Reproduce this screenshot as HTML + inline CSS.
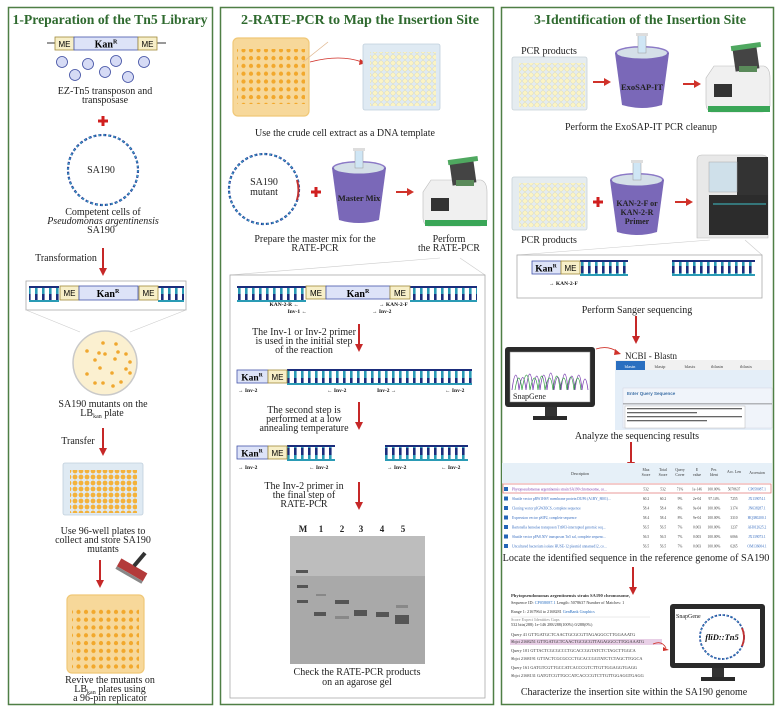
<!DOCTYPE html>
<html><head><meta charset="utf-8"><style>
html,body{margin:0;padding:0;background:#fff;}
svg{display:block;}
text{font-family:"Liberation Serif",serif;}
.t{font-size:14px;font-weight:bold;fill:#2f6a2f;text-anchor:middle;}
.c{font-size:10px;fill:#222;text-anchor:middle;}
.s{font-family:"Liberation Sans",sans-serif;}
.lab{font-size:5.5px;font-weight:bold;fill:#111;}
</style></head><body>
<svg width="779" height="711" viewBox="0 0 779 711" xmlns="http://www.w3.org/2000/svg">
<defs>
<pattern id="agar" width="7.5" height="7.8" patternUnits="userSpaceOnUse"><circle cx="3.5" cy="3.5" r="2.1" fill="#f2a82c"/></pattern>
<pattern id="well" width="6" height="6" patternUnits="userSpaceOnUse"><circle cx="3" cy="3" r="2.3" fill="#fbf4c4" stroke="#d9d3a0" stroke-width="0.4"/></pattern>
<pattern id="wello" width="6" height="6" patternUnits="userSpaceOnUse"><circle cx="3" cy="3" r="2.4" fill="#f4b23a"/></pattern>
<pattern id="rung" width="7" height="14" patternUnits="userSpaceOnUse"><rect x="0" y="0" width="2.6" height="7" fill="#1b2d7c"/><rect x="0" y="7" width="2.6" height="7" fill="#2a9bb5"/></pattern>
<g id="arr"><line x1="0" y1="0" x2="0" y2="22" stroke="#c62828" stroke-width="2"/><polygon points="-4,20 4,20 0,28" fill="#c62828"/></g>
<g id="harr"><line x1="0" y1="0" x2="12" y2="0" stroke="#d0322a" stroke-width="2"/><polygon points="11,-4 18,0 11,4" fill="#d0322a"/></g>
<g id="plus"><rect x="-5" y="-1.5" width="10" height="3" fill="#d01f1f"/><rect x="-1.5" y="-5" width="3" height="10" fill="#d01f1f"/></g>
<g id="bucket"><ellipse cx="0" cy="0" rx="27" ry="7" fill="#8b79c6"/><path d="M-27,0 L-20,52 Q0,58 20,52 L27,0 Z" fill="#7a68b8"/><ellipse cx="0" cy="0" rx="25" ry="5.5" fill="#d4dfe8"/><rect x="-4" y="-18" width="8" height="18" fill="#cfe6f5" stroke="#999" stroke-width="0.5"/><rect x="-6" y="-20" width="12" height="3" fill="#ddd"/></g>
<g id="cycler"><path d="M8,22 L58,22 Q64,24 64,34 L64,62 Q62,68 55,68 L5,68 Q0,66 0,60 L0,34 Z" fill="#f0f0f0" stroke="#bbb" stroke-width="0.6"/><rect x="2" y="62" width="62" height="6" fill="#3aa657"/><rect x="8" y="40" width="18" height="13" fill="#333"/><rect x="28" y="4" width="24" height="22" fill="#444" transform="rotate(-8 40 15)"/><rect x="25" y="0" width="30" height="5" fill="#4fa860" transform="rotate(-8 40 3)"/><rect x="33" y="22" width="18" height="6" fill="#5a8a5a"/></g>
</defs>

<rect x="8.5" y="7.5" width="204" height="697" fill="none" stroke="#4f7f45" stroke-width="1.5"/>
<rect x="220.5" y="7.5" width="273" height="697" fill="none" stroke="#4f7f45" stroke-width="1.5"/>
<rect x="501.5" y="7.5" width="272" height="697" fill="none" stroke="#4f7f45" stroke-width="1.5"/>

<!-- PANEL 1 -->
<text class="t" x="110" y="24" textLength="195" lengthAdjust="spacingAndGlyphs">1-Preparation of the Tn5 Library</text>
<line x1="47" y1="43" x2="166" y2="43" stroke="#333" stroke-width="1"/>
<rect x="55" y="37" width="19" height="13" fill="#f7efc8" stroke="#a08a3a" stroke-width="0.8"/>
<rect x="74" y="37" width="64" height="13" fill="#dde3f8" stroke="#4455aa" stroke-width="0.8"/>
<rect x="138" y="37" width="19" height="13" fill="#f7efc8" stroke="#a08a3a" stroke-width="0.8"/>
<text x="64.5" y="47" class="s" font-size="8" text-anchor="middle">ME</text>
<text x="147.5" y="47" class="s" font-size="8" text-anchor="middle">ME</text>
<text x="106" y="47.5" font-size="10" font-weight="bold" text-anchor="middle">Kan<tspan font-size="6" dy="-4">R</tspan></text>
<g fill="#d6dbf5" stroke="#3b4aa0" stroke-width="0.8"><circle cx="62" cy="62" r="5.5"/><circle cx="88" cy="64" r="5.5"/><circle cx="116" cy="61" r="5.5"/><circle cx="144" cy="62" r="5.5"/><circle cx="75" cy="75" r="5.5"/><circle cx="105" cy="72" r="5.5"/><circle cx="128" cy="77" r="5.5"/></g>
<text class="c" x="105" y="94">EZ-Tn5 transposon and</text>
<text class="c" x="105" y="103">transposase</text>
<use href="#plus" x="103" y="121"/>
<circle cx="103" cy="170" r="35" fill="none" stroke="#2a3f9a" stroke-width="2.2" stroke-dasharray="3 2"/>
<circle cx="103" cy="170" r="35" fill="none" stroke="#3ba6c6" stroke-width="1.2" stroke-dasharray="2 3"/>
<text class="c" x="101" y="173">SA190</text>
<text class="c" x="103" y="215">Competent cells of</text>
<text class="c" x="103" y="224" font-style="italic">Pseudomonas argentinensis</text>
<text class="c" x="101" y="233">SA190</text>
<text class="c" x="66" y="261">Transformation</text>
<use href="#arr" x="103" y="248"/>
<rect x="26" y="281" width="160" height="29" fill="#fff" stroke="#aaa" stroke-width="0.8"/>
<rect x="29" y="287" width="30" height="14" fill="url(#rung)"/><line x1="29" y1="287" x2="59" y2="287" stroke="#1b2d7c" stroke-width="2"/><line x1="29" y1="301" x2="59" y2="301" stroke="#2a9bb5" stroke-width="2"/>
<rect x="158" y="287" width="26" height="14" fill="url(#rung)"/><line x1="158" y1="287" x2="184" y2="287" stroke="#1b2d7c" stroke-width="2"/><line x1="158" y1="301" x2="184" y2="301" stroke="#2a9bb5" stroke-width="2"/>
<rect x="60" y="286" width="19" height="14" fill="#f7efc8" stroke="#a08a3a" stroke-width="0.8"/>
<rect x="79" y="286" width="59" height="14" fill="#dde3f8" stroke="#4455aa" stroke-width="0.8"/>
<rect x="139" y="286" width="19" height="14" fill="#f7efc8" stroke="#a08a3a" stroke-width="0.8"/>
<text x="69.5" y="296" class="s" font-size="8" text-anchor="middle">ME</text>
<text x="148.5" y="296" class="s" font-size="8" text-anchor="middle">ME</text>
<text x="108" y="297" font-size="10" font-weight="bold" text-anchor="middle">Kan<tspan font-size="6" dy="-4">R</tspan></text>
<line x1="26" y1="310" x2="80" y2="332" stroke="#ccc" stroke-width="0.6"/><line x1="186" y1="310" x2="130" y2="332" stroke="#ccc" stroke-width="0.6"/>
<circle cx="105" cy="363" r="32" fill="#fbf0d0" stroke="#c9c9c9" stroke-width="1.5"/>
<g fill="#f0a830"><circle cx="103" cy="343" r="1.8"/><circle cx="116" cy="344" r="1.8"/><circle cx="87" cy="351" r="1.8"/><circle cx="99" cy="353" r="1.8"/><circle cx="105" cy="354" r="1.8"/><circle cx="118" cy="352" r="1.8"/><circle cx="126" cy="354" r="1.8"/><circle cx="95" cy="360" r="1.8"/><circle cx="115" cy="359" r="1.8"/><circle cx="130" cy="362" r="1.8"/><circle cx="100" cy="368" r="1.8"/><circle cx="87" cy="374" r="1.8"/><circle cx="112" cy="373" r="1.8"/><circle cx="126" cy="369" r="1.8"/><circle cx="130" cy="373" r="1.8"/><circle cx="95" cy="383" r="1.8"/><circle cx="103" cy="383" r="1.8"/><circle cx="113" cy="386" r="1.8"/><circle cx="121" cy="382" r="1.8"/></g>
<text class="c" x="103" y="407">SA190 mutants on the</text>
<text class="c" x="102" y="416">LB<tspan font-size="6" dy="2">kan</tspan><tspan dy="-2"> plate</tspan></text>
<text class="c" x="78" y="444">Transfer</text>
<use href="#arr" x="103" y="428"/>
<rect x="63" y="463" width="80" height="52" rx="2" fill="#dfeaf3" stroke="#c0cfdc" stroke-width="0.8"/>
<rect x="70" y="470" width="67" height="43" fill="url(#wello)"/>
<text class="c" x="103" y="534">Use 96-well plates to</text>
<text class="c" x="103" y="543">collect and store SA190</text>
<text class="c" x="103" y="552">mutants</text>
<use href="#arr" x="100" y="560"/>
<g transform="rotate(30 132 568)"><rect x="118" y="565" width="30" height="9" fill="#b33a3a"/><rect x="118" y="574" width="30" height="3" fill="#888"/></g>
<line x1="134" y1="566" x2="145" y2="553" stroke="#333" stroke-width="4"/>
<rect x="67" y="595" width="77" height="78" rx="5" fill="#f7d89a" stroke="#f0c878" stroke-width="1.2"/>
<rect x="72" y="607" width="67" height="62" fill="url(#agar)"/>
<text class="c" x="110" y="683">Revive the mutants on</text>
<text class="c" x="110" y="692">LB<tspan font-size="6" dy="2">kan</tspan><tspan dy="-2"> plates using</tspan></text>
<text class="c" x="110" y="701">a 96-pin replicator</text>

<!-- PANEL 2 -->
<text class="t" x="360" y="24" textLength="238" lengthAdjust="spacingAndGlyphs">2-RATE-PCR to Map the Insertion Site</text>
<rect x="233" y="38" width="76" height="78" rx="5" fill="#f7d89a" stroke="#f0c878" stroke-width="1.2"/>
<rect x="237" y="49" width="68" height="55" fill="url(#agar)"/>
<line x1="303" y1="62" x2="328" y2="42" stroke="#e0b890" stroke-width="0.8"/>
<path d="M310,62 Q340,54 362,62" fill="none" stroke="#d0322a" stroke-width="0.8"/><polygon points="360,59 366,63 359,65" fill="#d0322a"/>
<rect x="363" y="44" width="77" height="66" rx="2" fill="#dfeaf3" stroke="#c0cfdc" stroke-width="0.8"/>
<rect x="370" y="52" width="66" height="54" fill="url(#well)"/>
<text class="c" x="345" y="136">Use the crude cell extract as a DNA template</text>
<circle cx="264" cy="189" r="35" fill="none" stroke="#2a3f9a" stroke-width="2.2" stroke-dasharray="3 2"/>
<circle cx="264" cy="189" r="35" fill="none" stroke="#3ba6c6" stroke-width="1.2" stroke-dasharray="2 3"/>
<path d="M297,180 Q300,190 297,200" fill="none" stroke="#c03030" stroke-width="2"/>
<text class="c" x="264" y="185">SA190</text><text class="c" x="264" y="195">mutant</text>
<use href="#plus" x="316" y="192"/>
<use href="#bucket" x="359" y="168"/>
<text x="359" y="201" font-size="8.5" font-weight="bold" text-anchor="middle" fill="#222">Master Mix</text>
<use href="#harr" x="396" y="192"/>
<use href="#cycler" x="423" y="158"/>
<text class="c" x="315" y="242">Prepare the master mix for the</text>
<text class="c" x="315" y="251">RATE-PCR</text>
<text class="c" x="449" y="242">Perform</text>
<text class="c" x="449" y="251">the RATE-PCR</text>
<line x1="230" y1="275" x2="440" y2="258" stroke="#ccc" stroke-width="0.6"/><line x1="485" y1="275" x2="460" y2="258" stroke="#ccc" stroke-width="0.6"/>
<rect x="230" y="275" width="255" height="423" fill="#fff" stroke="#aaa" stroke-width="0.8"/>
<rect x="237" y="287" width="69" height="14" fill="url(#rung)"/><line x1="237" y1="287" x2="306" y2="287" stroke="#1b2d7c" stroke-width="2"/><line x1="237" y1="301" x2="306" y2="301" stroke="#2a9bb5" stroke-width="2"/>
<rect x="410" y="287" width="67" height="14" fill="url(#rung)"/><line x1="410" y1="287" x2="477" y2="287" stroke="#1b2d7c" stroke-width="2"/><line x1="410" y1="301" x2="477" y2="301" stroke="#2a9bb5" stroke-width="2"/>
<rect x="306" y="286" width="20" height="13" fill="#f7efc8" stroke="#a08a3a" stroke-width="0.8"/>
<rect x="326" y="286" width="64" height="13" fill="#dde3f8" stroke="#4455aa" stroke-width="0.8"/>
<rect x="390" y="286" width="20" height="13" fill="#f7efc8" stroke="#a08a3a" stroke-width="0.8"/>
<text x="316" y="296" class="s" font-size="8" text-anchor="middle">ME</text><text x="400" y="296" class="s" font-size="8" text-anchor="middle">ME</text>
<text x="358" y="297" font-size="10" font-weight="bold" text-anchor="middle">Kan<tspan font-size="6" dy="-4">R</tspan></text>
<text class="lab" x="299" y="306" text-anchor="end">KAN-2-R ←</text>
<text class="lab" x="307" y="313" text-anchor="end">Inv-1 ←</text>
<text class="lab" x="379" y="306">→ KAN-2-F</text>
<text class="lab" x="372" y="313">→ Inv-2</text>
<text class="c" x="304" y="335">The Inv-1 or Inv-2 primer</text>
<text class="c" x="304" y="344">is used in the initial step</text>
<text class="c" x="304" y="353">of the reaction</text>
<use href="#arr" x="359" y="324"/>
<rect x="287" y="370" width="185" height="14" fill="url(#rung)"/><line x1="287" y1="370" x2="472" y2="370" stroke="#1b2d7c" stroke-width="2"/><line x1="287" y1="384" x2="472" y2="384" stroke="#2a9bb5" stroke-width="2"/>
<rect x="237" y="370" width="31" height="13" fill="#dde3f8" stroke="#4455aa" stroke-width="0.8"/>
<rect x="268" y="370" width="19" height="13" fill="#f7efc8" stroke="#a08a3a" stroke-width="0.8"/>
<text x="252" y="380.5" font-size="9.5" font-weight="bold" text-anchor="middle">Kan<tspan font-size="5.5" dy="-4">R</tspan></text>
<text x="277.5" y="380" class="s" font-size="8" text-anchor="middle">ME</text>
<text class="lab" x="238" y="392">→ Inv-2</text><text class="lab" x="327" y="392">← Inv-2</text><text class="lab" x="377" y="392">Inv-2 →</text><text class="lab" x="445" y="392">← Inv-2</text>
<text class="c" x="304" y="413">The second step is</text>
<text class="c" x="304" y="422">performed at a low</text>
<text class="c" x="304" y="431">annealing temperature</text>
<use href="#arr" x="359" y="402"/>
<rect x="287" y="446" width="48" height="14" fill="url(#rung)"/><line x1="287" y1="446" x2="335" y2="446" stroke="#1b2d7c" stroke-width="2"/><line x1="287" y1="460" x2="335" y2="460" stroke="#2a9bb5" stroke-width="2"/>
<rect x="385" y="446" width="83" height="14" fill="url(#rung)"/><line x1="385" y1="446" x2="468" y2="446" stroke="#1b2d7c" stroke-width="2"/><line x1="385" y1="460" x2="468" y2="460" stroke="#2a9bb5" stroke-width="2"/>
<rect x="237" y="446" width="31" height="13" fill="#dde3f8" stroke="#4455aa" stroke-width="0.8"/>
<rect x="268" y="446" width="19" height="13" fill="#f7efc8" stroke="#a08a3a" stroke-width="0.8"/>
<text x="252" y="456.5" font-size="9.5" font-weight="bold" text-anchor="middle">Kan<tspan font-size="5.5" dy="-4">R</tspan></text>
<text x="277.5" y="456" class="s" font-size="8" text-anchor="middle">ME</text>
<text class="lab" x="238" y="469">→ Inv-2</text><text class="lab" x="309" y="469">← Inv-2</text><text class="lab" x="387" y="469">→ Inv-2</text><text class="lab" x="441" y="469">← Inv-2</text>
<text class="c" x="304" y="489">The Inv-2 primer in</text>
<text class="c" x="304" y="498">the final step of</text>
<text class="c" x="304" y="507">RATE-PCR</text>
<use href="#arr" x="359" y="482"/>
<g class="s" font-size="9" font-weight="bold" text-anchor="middle" fill="#222"><text x="303" y="532">M</text><text x="321" y="532">1</text><text x="342" y="532">2</text><text x="361" y="532">3</text><text x="382" y="532">4</text><text x="403" y="532">5</text></g>
<rect x="290" y="536" width="135" height="128" fill="#a9a9a9"/>
<rect x="290" y="536" width="135" height="40" fill="#bdbdbd"/>
<g fill="#555"><rect x="296" y="570" width="12" height="3"/><rect x="297" y="585" width="11" height="3"/><rect x="297" y="600" width="11" height="3"/><rect x="335" y="600" width="14" height="4"/><rect x="354" y="610" width="13" height="6"/><rect x="376" y="612" width="13" height="5"/><rect x="395" y="615" width="14" height="9"/><rect x="314" y="612" width="12" height="4"/></g>
<g fill="#888"><rect x="316" y="594" width="10" height="2"/><rect x="335" y="616" width="14" height="3"/><rect x="396" y="605" width="12" height="3"/></g>
<text class="c" x="357" y="675">Check the RATE-PCR products</text>
<text class="c" x="357" y="685">on an agarose gel</text>

<!-- PANEL 3 -->
<text class="t" x="640" y="24" textLength="212" lengthAdjust="spacingAndGlyphs">3-Identification of the Insertion Site</text>
<text class="c" x="549" y="54">PCR products</text>
<rect x="512" y="57" width="75" height="53" rx="2" fill="#e5ecf0" stroke="#c8d2d8" stroke-width="0.8"/>
<rect x="519" y="63" width="66" height="44" fill="url(#well)"/>
<use href="#harr" x="593" y="82"/>
<use href="#bucket" x="642" y="53"/>
<text x="642" y="90" font-size="8.5" font-weight="bold" text-anchor="middle" fill="#222">ExoSAP-IT</text>
<use href="#harr" x="683" y="84"/>
<use href="#cycler" x="706" y="44"/>
<text class="c" x="641" y="130">Perform the ExoSAP-IT PCR cleanup</text>
<rect x="512" y="177" width="75" height="53" rx="2" fill="#e5ecf0" stroke="#c8d2d8" stroke-width="0.8"/>
<rect x="519" y="183" width="66" height="44" fill="url(#well)"/>
<text class="c" x="549" y="243">PCR products</text>
<use href="#plus" x="598" y="202"/>
<use href="#bucket" x="637" y="180"/>
<text x="637" y="206" font-size="8" font-weight="bold" text-anchor="middle" fill="#222">KAN-2-F or</text>
<text x="637" y="215" font-size="8" font-weight="bold" text-anchor="middle" fill="#222">KAN-2-R</text>
<text x="637" y="224" font-size="8" font-weight="bold" text-anchor="middle" fill="#222">Primer</text>
<use href="#harr" x="675" y="202"/>
<path d="M697,160 Q697,155 702,155 L762,155 Q768,155 768,162 L768,238 L697,238 Z" fill="#e8e8e8" stroke="#bbb" stroke-width="0.6"/>
<rect x="737" y="157" width="31" height="40" fill="#333"/>
<rect x="709" y="162" width="28" height="30" fill="#cfe0ea" stroke="#aaa" stroke-width="0.5"/>
<rect x="709" y="195" width="59" height="40" fill="#2c2c2c"/>
<line x1="713" y1="204" x2="766" y2="204" stroke="#3ec0c8" stroke-width="1"/>
<line x1="517" y1="255" x2="710" y2="240" stroke="#ccc" stroke-width="0.6"/><line x1="762" y1="255" x2="745" y2="240" stroke="#ccc" stroke-width="0.6"/>
<rect x="517" y="255" width="245" height="43" fill="#fff" stroke="#aaa" stroke-width="0.8"/>
<rect x="580" y="261" width="48" height="14" fill="url(#rung)"/><line x1="580" y1="261" x2="628" y2="261" stroke="#1b2d7c" stroke-width="2"/><line x1="580" y1="275" x2="628" y2="275" stroke="#2a9bb5" stroke-width="2"/>
<rect x="672" y="261" width="83" height="14" fill="url(#rung)"/><line x1="672" y1="261" x2="755" y2="261" stroke="#1b2d7c" stroke-width="2"/><line x1="672" y1="275" x2="755" y2="275" stroke="#2a9bb5" stroke-width="2"/>
<rect x="532" y="261" width="29" height="13" fill="#dde3f8" stroke="#4455aa" stroke-width="0.8"/>
<rect x="561" y="261" width="19" height="13" fill="#f7efc8" stroke="#a08a3a" stroke-width="0.8"/>
<text x="546" y="271.5" font-size="9.5" font-weight="bold" text-anchor="middle">Kan<tspan font-size="5.5" dy="-4">R</tspan></text>
<text x="570.5" y="271" class="s" font-size="8" text-anchor="middle">ME</text>
<text class="lab" x="549" y="285">→ KAN-2-F</text>
<text class="c" x="637" y="313">Perform Sanger sequencing</text>
<use href="#arr" x="636" y="316"/>
<rect x="505" y="347" width="90" height="60" rx="3" fill="#2a2a2a"/>
<rect x="510" y="352" width="80" height="50" fill="#fff" stroke="#888" stroke-width="0.5"/>
<path d="M512,390 Q516,360 519,390 Q523,365 526,390 Q530,358 533,390 Q537,362 540,390 Q544,360 547,390 Q551,356 554,390 Q558,364 561,390 Q565,358 568,390 Q572,362 575,390 Q579,360 582,390 Q585,368 588,390" fill="none" stroke="#7a3fb0" stroke-width="0.8"/>
<path d="M515,390 Q519,366 522,390 Q527,360 530,390 Q535,366 538,390 Q542,362 545,390 Q550,366 553,390 Q557,362 560,390 Q564,366 567,390 Q571,364 574,390 Q578,366 581,390" fill="none" stroke="#2a9a3a" stroke-width="0.7"/>
<text x="513" y="399" font-size="8" fill="#222">SnapGene</text>
<rect x="545" y="407" width="12" height="10" fill="#333"/><rect x="533" y="416" width="34" height="4" fill="#2a2a2a"/>
<path d="M596,349 Q608,345 618,352" fill="none" stroke="#d0322a" stroke-width="0.8"/><polygon points="615,349 621,354 614,355" fill="#d0322a"/>
<text x="625" y="359" font-size="9" fill="#222">NCBI - Blastn</text>
<rect x="615" y="360" width="157" height="10" fill="#f1f1f1"/>
<rect x="616" y="361" width="29" height="9" fill="#2a6fc0"/>
<g class="s" font-size="4.5" fill="#444" text-anchor="middle"><text x="630" y="368" fill="#fff">blastn</text><text x="660" y="368">blastp</text><text x="690" y="368">blastx</text><text x="717" y="368">tblastn</text><text x="746" y="368">tblastx</text></g>
<rect x="615" y="370" width="157" height="60" fill="#e4eef8"/>
<rect x="623" y="388" width="149" height="40" fill="#f0f4fa" stroke="#ccd" stroke-width="0.4"/>
<text x="627" y="395" class="s" font-size="4.5" font-weight="bold" fill="#3b6ea5">Enter Query Sequence</text>
<rect x="623" y="403" width="149" height="1.5" fill="#555" opacity="0.4"/>
<rect x="625" y="406" width="120" height="22" fill="#fff" stroke="#aaa" stroke-width="0.4"/>
<g fill="#666"><rect x="627" y="408" width="115" height="1.3"/><rect x="627" y="412" width="70" height="1.3"/><rect x="627" y="416" width="115" height="1.3"/><rect x="627" y="420" width="80" height="1.3"/></g>
<text class="c" x="637" y="439">Analyze the sequencing results</text>
<use href="#arr" x="631" y="442"/>
<rect x="502" y="463" width="270" height="20" fill="#e6f0f8"/>
<g class="s" font-size="3.8" fill="#333" text-anchor="middle"><text x="580" y="475">Description</text><text x="646" y="471">Max</text><text x="646" y="476">Score</text><text x="663" y="471">Total</text><text x="663" y="476">Score</text><text x="680" y="471">Query</text><text x="680" y="476">Cover</text><text x="697" y="471">E</text><text x="697" y="476">value</text><text x="714" y="471">Per.</text><text x="714" y="476">Ident</text><text x="734" y="473">Acc. Len</text><text x="757" y="474">Accession</text></g>
<g class="s" font-size="3.6">
<g fill="#2466b8"><rect x="504" y="487" width="4" height="4"/><rect x="504" y="496.5" width="4" height="4"/><rect x="504" y="506" width="4" height="4"/><rect x="504" y="515.5" width="4" height="4"/><rect x="504" y="525" width="4" height="4"/><rect x="504" y="534.5" width="4" height="4"/><rect x="504" y="544" width="4" height="4"/></g>
<rect x="503" y="484" width="268" height="9" fill="none" stroke="#e07070" stroke-width="0.7"/>
<g fill="#3a6fc0"><text x="512" y="490.5" fill="#7a3ab0">Phytopseudomonas argentinensis strain SA190 chromosome, co...</text><text x="512" y="500">Shuttle vector pRW1HSV membrane protein DUF6 (A1BY_8001)...</text><text x="512" y="509.5">Cloning vector pIGWZ6CS, complete sequence</text><text x="512" y="519">Expression vector pSIP2, complete sequence</text><text x="512" y="528.5">Bartonella henselae transposon Tn903-interrupted genomic seq...</text><text x="512" y="538">Shuttle vector pPA8.50V transposon Tn5 sal, complete sequenc...</text><text x="512" y="547.5">Uncultured bacterium isolate HUSE-12 plasmid unnamed12, co...</text></g>
<g fill="#444" text-anchor="middle"><text x="646" y="490.5">532</text><text x="663" y="490.5">532</text><text x="680" y="490.5">71%</text><text x="697" y="490.5">1e-146</text><text x="714" y="490.5">100.00%</text><text x="734" y="490.5">5078637</text>
<text x="646" y="500">60.2</text><text x="663" y="500">60.2</text><text x="680" y="500">9%</text><text x="697" y="500">2e-04</text><text x="714" y="500">97.14%</text><text x="734" y="500">7255</text>
<text x="646" y="509.5">58.4</text><text x="663" y="509.5">58.4</text><text x="680" y="509.5">8%</text><text x="697" y="509.5">9e-04</text><text x="714" y="509.5">100.00%</text><text x="734" y="509.5">3174</text>
<text x="646" y="519">58.4</text><text x="663" y="519">58.4</text><text x="680" y="519">8%</text><text x="697" y="519">9e-04</text><text x="714" y="519">100.00%</text><text x="734" y="519">3310</text>
<text x="646" y="528.5">56.5</text><text x="663" y="528.5">56.5</text><text x="680" y="528.5">7%</text><text x="697" y="528.5">0.003</text><text x="714" y="528.5">100.00%</text><text x="734" y="528.5">1237</text>
<text x="646" y="538">56.5</text><text x="663" y="538">56.5</text><text x="680" y="538">7%</text><text x="697" y="538">0.003</text><text x="714" y="538">100.00%</text><text x="734" y="538">6066</text>
<text x="646" y="547.5">56.5</text><text x="663" y="547.5">56.5</text><text x="680" y="547.5">7%</text><text x="697" y="547.5">0.003</text><text x="714" y="547.5">100.00%</text><text x="734" y="547.5">6265</text></g>
<g fill="#3a6fc0" text-anchor="middle"><text x="757" y="490.5">CP058087.1</text><text x="757" y="500">JX139074.1</text><text x="757" y="509.5">JN638287.1</text><text x="757" y="519">HQ380200.1</text><text x="757" y="528.5">AH012625.2</text><text x="757" y="538">JX139073.1</text><text x="757" y="547.5">OM136004.1</text></g>
</g>
<text x="636" y="561" font-size="10.2" text-anchor="middle" fill="#222">Locate the identified sequence in the reference genome of SA190</text>
<use href="#arr" x="633" y="567"/>
<g class="s" font-size="4.2" fill="#333">
<text x="511" y="597" font-weight="bold" font-size="4.6">Phytopseudomonas argentinensis strain SA190 chromosome,</text>
<text x="511" y="604">Sequence ID: <tspan fill="#2a6fc0">CP058087.1</tspan>  Length: 5078637  Number of Matches: 1</text>
<text x="511" y="613">Range 1: 2167964 to 2168281  <tspan fill="#2a6fc0">GenBank  Graphics</tspan></text>
<text x="511" y="621" fill="#888">Score        Expect    Identities        Gaps</text>
<text x="511" y="626">532 bits(288)  1e-146   288/288(100%)    0/288(0%)</text>
</g>
<line x1="511" y1="617" x2="650" y2="617" stroke="#ccc" stroke-width="0.4"/>
<rect x="510" y="639" width="152" height="6" fill="#e8cfe6"/>
<g font-family="Liberation Mono,monospace" font-size="4.3" fill="#333">
<text x="511" y="636">Query  41      GTTGATGCTCAACTGCGCGTTAGAGGCCTTGGAAATG</text>
<text x="511" y="643">Sbjct  2168251 GTTGATGCTCAACTGCGCGTTAGAGGCCTTGGAAATG</text>
<text x="511" y="652">Query  101     GTTACTCGCGCCCTGCACCGGTATCTCTAGCTTGGCA</text>
<text x="511" y="660">Sbjct  2168191 GTTACTCGCGCCCTGCACCGGTATCTCTAGCTTGGCA</text>
<text x="511" y="669">Query  161     GATGTCGTTGCCATCACCCGTCTTGTTGGAGGTGAGG</text>
<text x="511" y="677">Sbjct  2168131 GATGTCGTTGCCATCACCCGTCTTGTTGGAGGTGAGG</text>
</g>
<path d="M653,644 Q662,640 666,648" fill="none" stroke="#d0322a" stroke-width="0.8"/><polygon points="663,647 669,650 663,651" fill="#d0322a"/>
<rect x="670" y="604" width="95" height="64" rx="3" fill="#2a2a2a"/>
<rect x="675" y="609" width="85" height="54" fill="#fff"/>
<text x="676" y="618" font-size="6" fill="#222">SnapGene</text>
<circle cx="722" cy="637" r="22" fill="none" stroke="#2a3f9a" stroke-width="1.8" stroke-dasharray="2.5 1.5"/>
<circle cx="722" cy="637" r="22" fill="none" stroke="#3ba6c6" stroke-width="1" stroke-dasharray="1.5 2.5"/>
<path d="M742,628 Q746,637 742,646" fill="none" stroke="#c03030" stroke-width="1.8"/>
<text x="722" y="640" font-size="8.5" font-weight="bold" font-style="italic" text-anchor="middle" fill="#111">fliD::Tn5</text>
<rect x="712" y="668" width="12" height="10" fill="#333"/><rect x="701" y="677" width="34" height="4" fill="#2a2a2a"/>
<text x="634" y="695" font-size="10" text-anchor="middle" fill="#222">Characterize the insertion site within the SA190 genome</text>
</svg>
</body></html>
